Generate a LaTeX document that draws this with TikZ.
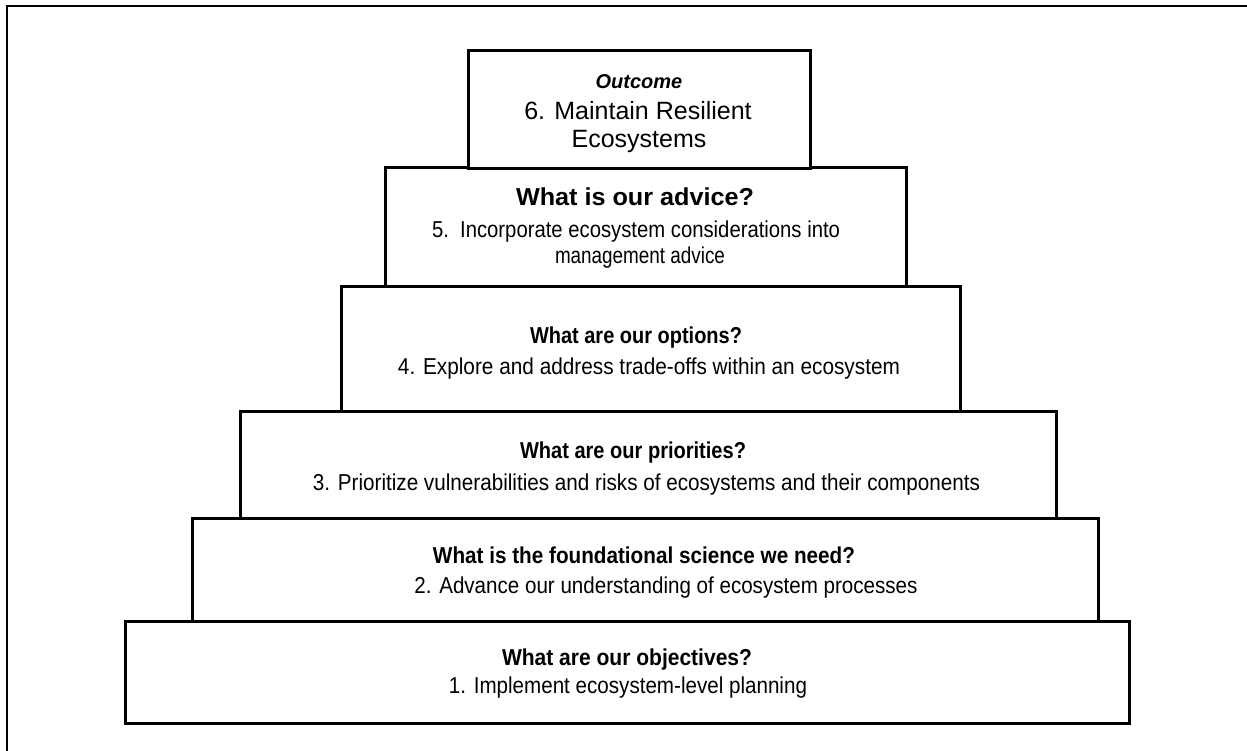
\documentclass[tikz,border=0pt]{standalone}
\usepackage{fontspec}
\usepackage{graphicx}
\setmainfont{Liberation Sans}
\newcommand\fitw[2]{\resizebox{#1pt}{\height}{#2}}
\begin{document}
\begin{tikzpicture}[x=1pt,y=-1pt,
  tier/.style={draw=black, line width=3pt, fill=white, rectangle, inner sep=0pt},
  ttl/.style={font=\bfseries\fontsize{23}{27}\selectfont, anchor=base, inner sep=0pt},
  txt/.style={font=\fontsize{23}{27}\selectfont, anchor=base, inner sep=0pt}]
\useasboundingbox (0,0) rectangle (1247,751);
\draw[line width=2pt] (7,760) -- (7,6) -- (1260,6);
% tiers (bottom to top)
\node[tier, minimum width=1004pt, minimum height=102pt] (t1) at (627,672) {};
\node[tier, minimum width=906pt, minimum height=103pt] (t2) at (645,569.5) {};
\node[tier, minimum width=816pt, minimum height=107pt] (t3) at (648,464.5) {};
\node[tier, minimum width=619pt, minimum height=124pt] (t4) at (650.5,349) {};
\node[tier, minimum width=521pt, minimum height=119pt] (t5) at (645.5,227.5) {};
\node[tier, minimum width=342pt, minimum height=118pt] (t6) at (639,110) {};
% texts
\node[font=\bfseries\itshape\fontsize{20}{24}\selectfont, anchor=base, inner sep=0pt] (o6) at (639,89) {Outcome};
\node[font=\fontsize{25}{30}\selectfont, anchor=base, inner sep=0pt] (a6) at (638,120) {6. Maintain Resilient};
\node[font=\fontsize{25}{30}\selectfont, anchor=base, inner sep=0pt] (b6) at (639,148) {Ecosystems};
\node[font=\bfseries\fontsize{24.5}{28}\selectfont, anchor=base, inner sep=0pt] (q5) at (635,206) {\fitw{238}{What is our advice?}};
\node[txt] (a5) at (636,238) {\fitw{408}{5.\ \ Incorporate ecosystem considerations into}};
\node[txt] (b5) at (640,264) {\fitw{170}{management advice}};
\node[ttl] (q4) at (636,343) {\fitw{212}{What are our options?}};
\node[txt] (a4) at (649,374) {\fitw{502}{4. Explore and address trade-offs within an ecosystem}};
\node[ttl] (q3) at (633,458) {\fitw{226}{What are our priorities?}};
\node[txt] (a3) at (646.5,490) {\fitw{667}{3. Prioritize vulnerabilities and risks of ecosystems and their components}};
\node[ttl] (q2) at (644,563) {\fitw{422}{What is the foundational science we need?}};
\node[txt] (a2) at (666,593) {\fitw{503}{2. Advance our understanding of ecosystem processes}};
\node[ttl] (q1) at (627,665) {\fitw{250}{What are our objectives?}};
\node[txt] (a1) at (628,693) {\fitw{358}{1. Implement ecosystem-level planning}};
\end{tikzpicture}
\end{document}
